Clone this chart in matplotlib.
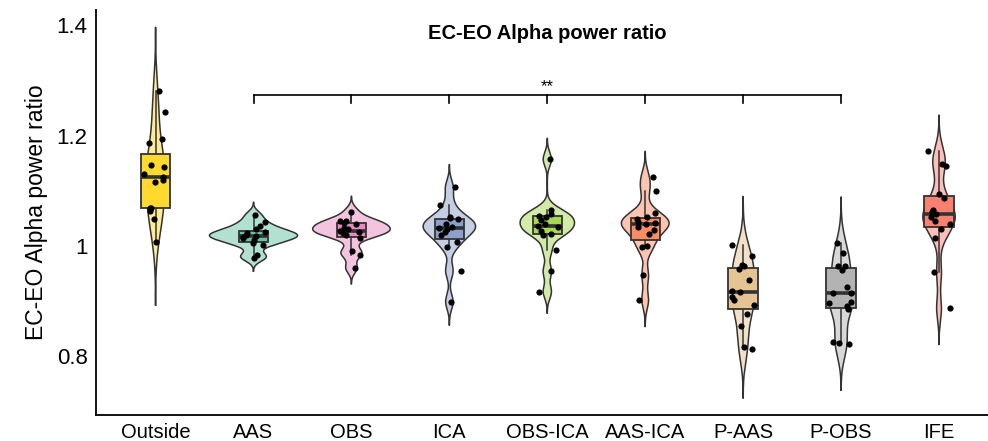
import numpy as np
import matplotlib
matplotlib.use("Agg")
import matplotlib.pyplot as plt

plt.rcParams['font.family'] = ['Liberation Sans', 'DejaVu Sans']

groups = ["Outside", "AAS", "OBS", "ICA", "OBS-ICA", "AAS-ICA", "P-AAS", "P-OBS", "IFE"]

outside = [1.281, 1.243, 1.194, 1.186, 1.147, 1.143, 1.130, 1.125, 1.120, 1.115,
           1.069, 1.068, 1.063, 1.049, 1.008]
aas = [1.056, 1.043, 1.036, 1.030, 1.026, 1.024, 1.020, 1.018, 1.017, 1.015,
       1.010, 1.006, 1.001, 0.983, 0.978]
obs = [1.062, 1.045, 1.045, 1.042, 1.040, 1.032, 1.031, 1.028, 1.026, 1.023,
       1.020, 1.014, 0.991, 0.984, 0.960]
ica = [1.106, 1.075, 1.052, 1.050, 1.048, 1.040, 1.035, 1.032, 1.030, 1.025,
       1.019, 1.008, 0.998, 0.955, 0.899]
obs_ica = [1.157, 1.065, 1.058, 1.054, 1.053, 1.047, 1.040, 1.036, 1.035, 1.027,
           1.022, 1.020, 0.992, 0.954, 0.917]
aas_ica = [1.124, 1.100, 1.060, 1.053, 1.049, 1.044, 1.041, 1.040, 1.034, 1.029,
           1.021, 1.000, 0.998, 0.947, 0.902]
p_aas = [1.001, 0.982, 0.965, 0.964, 0.958, 0.938, 0.919, 0.917, 0.908, 0.902,
         0.893, 0.877, 0.855, 0.817, 0.814]
p_obs = [1.005, 0.987, 0.964, 0.963, 0.957, 0.925, 0.915, 0.914, 0.899, 0.897,
         0.892, 0.885, 0.827, 0.825, 0.823]
ife = [1.172, 1.148, 1.145, 1.094, 1.086, 1.066, 1.061, 1.057, 1.052, 1.046,
       1.039, 1.030, 1.014, 0.952, 0.887]

data = [outside, aas, obs, ica, obs_ica, aas_ica, p_aas, p_obs, ife]

colors = ["#FFD92F", "#66C2A5", "#E78AC3", "#8DA0CB", "#A6D854",
          "#FC8D62", "#E5C494", "#B3B3B3", "#FB8072"]

# significance bracket: AAS .. P-OBS
bracket_groups = ["AAS", "OBS", "ICA", "OBS-ICA", "AAS-ICA", "P-AAS", "P-OBS"]
bracket_y = 1.273
bracket_tick = 0.014
sig_label = "**"

EDGE = "#333333"


def nrd0(x):
    x = np.asarray(x)
    q1, q3 = np.percentile(x, [25, 75])
    s = min(np.std(x, ddof=1), (q3 - q1) / 1.34)
    return 0.9 * s * len(x) ** (-0.2)


# KDE like ggplot geom_violin(trim = FALSE)
kdes = []
for vals in data:
    v = np.asarray(vals)
    bw = nrd0(v)
    grid = np.linspace(v.min() - 3 * bw, v.max() + 3 * bw, 512)
    dens = np.exp(-0.5 * ((grid[:, None] - v[None, :]) / bw) ** 2).sum(axis=1)
    dens /= len(v) * bw * np.sqrt(2 * np.pi)
    kdes.append((grid, dens))

max_dens = max(d.max() for _, d in kdes)

fig = plt.figure(figsize=(9.88, 4.41), dpi=100)
ax = fig.add_axes([0.097, 0.059, 0.903, 0.918])

rng = np.random.default_rng(7)
half_w = 0.45
box_w = 0.3

for i, (vals, col) in enumerate(zip(data, colors)):
    grid, dens = kdes[i]
    w = dens / max_dens * half_w
    ax.fill_betweenx(grid, i - w, i + w, facecolor=col, alpha=0.5,
                     edgecolor="none", zorder=1)
    ax.plot(np.concatenate([i - w, (i + w)[::-1], [i - w[0]]]),
            np.concatenate([grid, grid[::-1], [grid[0]]]),
            color=EDGE, lw=1.1, zorder=2)

    v = np.asarray(vals)
    q1, med, q3 = np.percentile(v, [25, 50, 75])
    iqr = q3 - q1
    lo = v[v >= q1 - 1.5 * iqr].min()
    hi = v[v <= q3 + 1.5 * iqr].max()
    ax.plot([i, i], [q3, hi], color=EDGE, lw=1.1, zorder=3)
    ax.plot([i, i], [lo, q1], color=EDGE, lw=1.1, zorder=3)
    ax.add_patch(plt.Rectangle((i - box_w / 2, q1), box_w, q3 - q1,
                               facecolor=col, edgecolor=EDGE, lw=1.3, zorder=4))
    ax.plot([i - box_w / 2, i + box_w / 2], [med, med], color=EDGE, lw=2.6,
            zorder=5, solid_capstyle="butt")

    jit = rng.uniform(-0.12, 0.12, len(v))
    ax.scatter(i + jit, v, s=20, color="black", zorder=6, linewidths=0)

# bracket
xs = [groups.index(g) for g in bracket_groups]
ax.plot([xs[0], xs[-1]], [bracket_y, bracket_y], color="black", lw=1.2)
for x in xs:
    ax.plot([x, x], [bracket_y, bracket_y - bracket_tick], color="black", lw=1.2)
ax.text((xs[0] + xs[-1]) / 2, bracket_y + 0.002, sig_label, ha="center",
        va="bottom", fontsize=12)

ax.text(4.0, 1.385, "EC-EO Alpha power ratio", ha="center", va="center",
        fontsize=14.5, fontweight="bold")

ax.set_xlim(-0.61, 8.5)
ax.set_ylim(0.694, 1.427)
ax.set_xticks(range(len(groups)))
ax.set_xticklabels(groups, fontsize=14.5)
ax.set_yticks([0.8, 1.0, 1.2, 1.4])
ax.set_yticklabels(["0.8", "1", "1.2", "1.4"], fontsize=16)
ax.tick_params(length=0, pad=6)
ax.set_ylabel("EC-EO Alpha power ratio", fontsize=16.5, labelpad=6)
for s in ["top", "right"]:
    ax.spines[s].set_visible(False)
for s in ["left", "bottom"]:
    ax.spines[s].set_linewidth(1.3)
    ax.spines[s].set_color("black")

fig.savefig("out.png", dpi=100)
